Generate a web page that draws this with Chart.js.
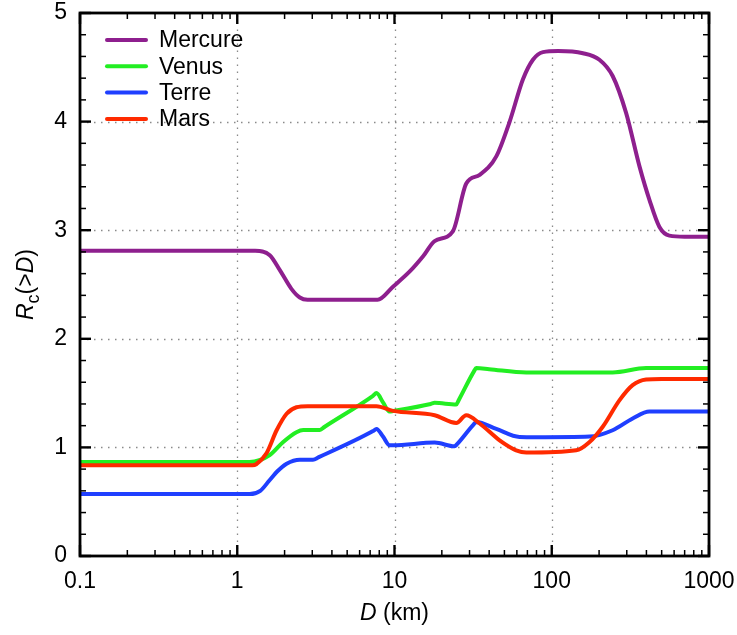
<!DOCTYPE html>
<html><head><meta charset="utf-8">
<script src="https://cdn.jsdelivr.net/npm/chart.js@4/dist/chart.umd.min.js"></script>
<style>html,body{margin:0;padding:0;background:#fff;}canvas{display:block;}</style>
</head><body>
<canvas id="c" width="737" height="635" style="width:737px;height:635px"></canvas>
<script>
// ---- data ----
const seriesNames = ['Mercure', 'Venus', 'Terre', 'Mars'];
const seriesColors = ['#8e1f8e', '#22ee22', '#1f3fff', '#ff2a00'];

const mercureD = [0.1, 1.3, 1.61, 1.87, 2.21, 2.5, 2.8, 7.8, 9.78, 12.5, 15.2, 18, 23.5, 28.6, 34.8, 44.4, 54, 65.6, 75.9, 87.9, 110, 157.8, 201, 244, 297, 361, 418, 484, 560, 700, 1000];
const mercureR = [2.81, 2.81, 2.77, 2.63, 2.46, 2.38, 2.36, 2.36, 2.48, 2.62, 2.76, 2.90, 2.99, 3.43, 3.51, 3.68, 4.0, 4.39, 4.57, 4.64, 4.65, 4.63, 4.57, 4.42, 4.08, 3.59, 3.28, 3.03, 2.95, 2.94, 2.94];

const venusD = [0.1, 1.2, 1.61, 1.96, 2.38, 2.63, 3.35, 3.6, 7.3, 7.68, 8.45, 9.3, 9.8, 17, 18, 24.7, 25.5, 32, 33.1, 40, 68.9, 244, 398, 1000];
const venusR = [0.865, 0.865, 0.93, 1.05, 1.14, 1.16, 1.16, 1.19, 1.475, 1.50, 1.415, 1.33, 1.335, 1.40, 1.41, 1.395, 1.43, 1.70, 1.73, 1.72, 1.69, 1.69, 1.73, 1.73];

const terreD = [0.1, 1.2, 1.4, 1.61, 1.8, 2.06, 2.5, 3.03, 3.3, 7.3, 7.68, 8.45, 9.3, 9.8, 18, 24.1, 25, 32, 33.1, 44.4, 62.4, 80, 174, 244, 327, 418, 1000];
const terreR = [0.57, 0.57, 0.60, 0.70, 0.78, 0.85, 0.887, 0.887, 0.91, 1.15, 1.17, 1.10, 1.02, 1.02, 1.044, 1.01, 1.03, 1.215, 1.234, 1.17, 1.096, 1.094, 1.10, 1.158, 1.266, 1.33, 1.33];

const marsD = [0.1, 1.25, 1.32, 1.53, 1.78, 2.06, 2.38, 2.8, 7.68, 9.78, 18, 24.7, 28.6, 34.8, 46.6, 59.4, 68.9, 143, 174, 211, 270, 327, 398, 500, 1000];
const marsR = [0.835, 0.835, 0.845, 0.943, 1.158, 1.31, 1.37, 1.38, 1.38, 1.336, 1.296, 1.225, 1.296, 1.22, 1.065, 0.973, 0.952, 0.973, 1.05, 1.19, 1.435, 1.573, 1.625, 1.63, 1.63];

const xMajorTicks = [0.1, 1, 10, 100, 1000];
const xTickLabels = ['0.1', '1', '10', '100', '1000'];
const yTicks = [0, 1, 2, 3, 4, 5];
const xMin = 0.1, xMax = 1000, yMin = 0, yMax = 5;

const FONT = '"Liberation Sans", Arial, Helvetica, sans-serif';
const LW = 4;

function pts(D, R) { return D.map((d, i) => ({ x: d, y: R[i] })); }
const allD = [mercureD, venusD, terreD, marsD];
const allR = [mercureR, venusR, terreR, marsR];

const datasets = seriesNames.map((n, i) => ({
  label: n,
  data: pts(allD[i], allR[i]),
  borderColor: seriesColors[i],
  backgroundColor: seriesColors[i],
  borderWidth: LW,
  pointRadius: 0,
  fill: false,
  cubicInterpolationMode: 'monotone',
  order: 3 - i
}));

const framePlugin = {
  id: 'frame',
  beforeDatasetsDraw(chart) {
    const { ctx, chartArea: a, scales: { x, y } } = chart;
    ctx.save();
    ctx.strokeStyle = '#8a8a8a';
    ctx.lineWidth = 1.3;
    ctx.setLineDash([1.5, 5.5]);
    xMajorTicks.forEach(v => {
      if (v <= xMin || v >= xMax) return;
      const px = Math.round(x.getPixelForValue(v)) + 0.5;
      ctx.beginPath(); ctx.moveTo(px, a.bottom); ctx.lineTo(px, a.top); ctx.stroke();
    });
    yTicks.forEach(v => {
      if (v <= yMin || v >= yMax) return;
      const py = Math.round(y.getPixelForValue(v)) + 0.5;
      ctx.beginPath(); ctx.moveTo(a.left, py); ctx.lineTo(a.right, py); ctx.stroke();
    });
    ctx.restore();
  },
  afterDatasetsDraw(chart) {
    const { ctx, chartArea: a, scales: { x, y } } = chart;
    ctx.save();
    ctx.strokeStyle = '#000';
    ctx.setLineDash([]);
    const majL = 11, minL = 6;
    for (let e = -1; e <= 3; e++) {
      for (let k = 1; k <= 9; k++) {
        const v = k * Math.pow(10, e);
        if (v < xMin || v > xMax) continue;
        const px = x.getPixelForValue(v);
        const L = k === 1 ? majL : minL;
        ctx.lineWidth = k === 1 ? 2.4 : 1.5;
        ctx.beginPath(); ctx.moveTo(px, a.bottom); ctx.lineTo(px, a.bottom - L); ctx.stroke();
        ctx.beginPath(); ctx.moveTo(px, a.top); ctx.lineTo(px, a.top + L); ctx.stroke();
      }
    }
    for (let i = 0; i <= 25; i++) {
      const v = i * 0.2;
      const py = y.getPixelForValue(v);
      const major = i % 5 === 0;
      const L = major ? majL : minL;
      ctx.lineWidth = major ? 2.4 : 1.5;
      ctx.beginPath(); ctx.moveTo(a.left, py); ctx.lineTo(a.left + L, py); ctx.stroke();
      ctx.beginPath(); ctx.moveTo(a.right, py); ctx.lineTo(a.right - L, py); ctx.stroke();
    }
    ctx.lineWidth = 2.8;
    ctx.strokeRect(a.left, a.top, a.right - a.left, a.bottom - a.top);
    ctx.restore();
  },
  afterDraw(chart) {
    const { ctx, chartArea: a } = chart;
    ctx.save();
    // legend
    ctx.font = '23px ' + FONT;
    ctx.textBaseline = 'middle';
    ctx.textAlign = 'left';
    seriesNames.forEach((n, i) => {
      const yy = 40 + i * 26.3;
      ctx.strokeStyle = seriesColors[i];
      ctx.lineWidth = LW;
      ctx.lineCap = 'round';
      ctx.beginPath(); ctx.moveTo(107, yy); ctx.lineTo(146, yy); ctx.stroke();
      ctx.fillStyle = '#000';
      ctx.fillText(n, 159, yy + 1);
    });
    // x title: D (km)
    ctx.fillStyle = '#000';
    ctx.textBaseline = 'alphabetic';
    const fI = 'italic 23px ' + FONT, fN = '23px ' + FONT, fS = '18px ' + FONT;
    ctx.font = fI; const wD = ctx.measureText('D').width;
    ctx.font = fN; const wK = ctx.measureText(' (km)').width;
    const cx = (a.left + a.right) / 2;
    const sx = cx - (wD + wK) / 2;
    const by = 620;
    ctx.font = fI; ctx.fillText('D', sx, by);
    ctx.font = fN; ctx.fillText(' (km)', sx + wD, by);
    // y title: R_c(>D)
    ctx.save();
    ctx.translate(33, (a.top + a.bottom) / 2);
    ctx.rotate(-Math.PI / 2);
    const parts = [['R', fI, 0], ['c', fS, 6], ['(>', fN, 0], ['D', fI, 0], [')', fN, 0]];
    let tw = 0;
    parts.forEach(p => { ctx.font = p[1]; tw += ctx.measureText(p[0]).width; });
    let px = -tw / 2;
    parts.forEach(p => { ctx.font = p[1]; ctx.fillText(p[0], px, p[2]); px += ctx.measureText(p[0]).width; });
    ctx.restore();
    ctx.restore();
  }
};

new Chart(document.getElementById('c'), {
  type: 'line',
  data: { datasets },
  options: {
    responsive: false,
    animation: false,
    devicePixelRatio: 1,
    layout: { padding: { top: 13, right: 28, left: 0, bottom: 0 } },
    plugins: { legend: { display: false }, tooltip: { enabled: false } },
    scales: {
      x: {
        type: 'logarithmic',
        min: xMin, max: xMax,
        afterBuildTicks: s => { s.ticks = xMajorTicks.map(v => ({ value: v })); },
        afterFit: s => { s.height = 79; s.paddingLeft = 0; s.paddingRight = 0; },
        grid: { display: false, drawTicks: false },
        border: { display: false },
        ticks: {
          autoSkip: false, maxRotation: 0, padding: 12, color: '#000',
          font: { size: 23, family: FONT },
          callback: (v) => { const i = xMajorTicks.indexOf(v); return i >= 0 ? xTickLabels[i] : ''; }
        }
      },
      y: {
        type: 'linear',
        min: yMin, max: yMax,
        afterBuildTicks: s => { s.ticks = yTicks.map(v => ({ value: v })); },
        afterFit: s => { s.width = 80; s.paddingTop = 0; s.paddingBottom = 0; },
        grid: { display: false, drawTicks: false },
        border: { display: false },
        ticks: {
          padding: 13, color: '#000',
          font: { size: 23, family: FONT },
          callback: v => String(v)
        }
      }
    }
  },
  plugins: [framePlugin]
});
</script>
</body></html>
